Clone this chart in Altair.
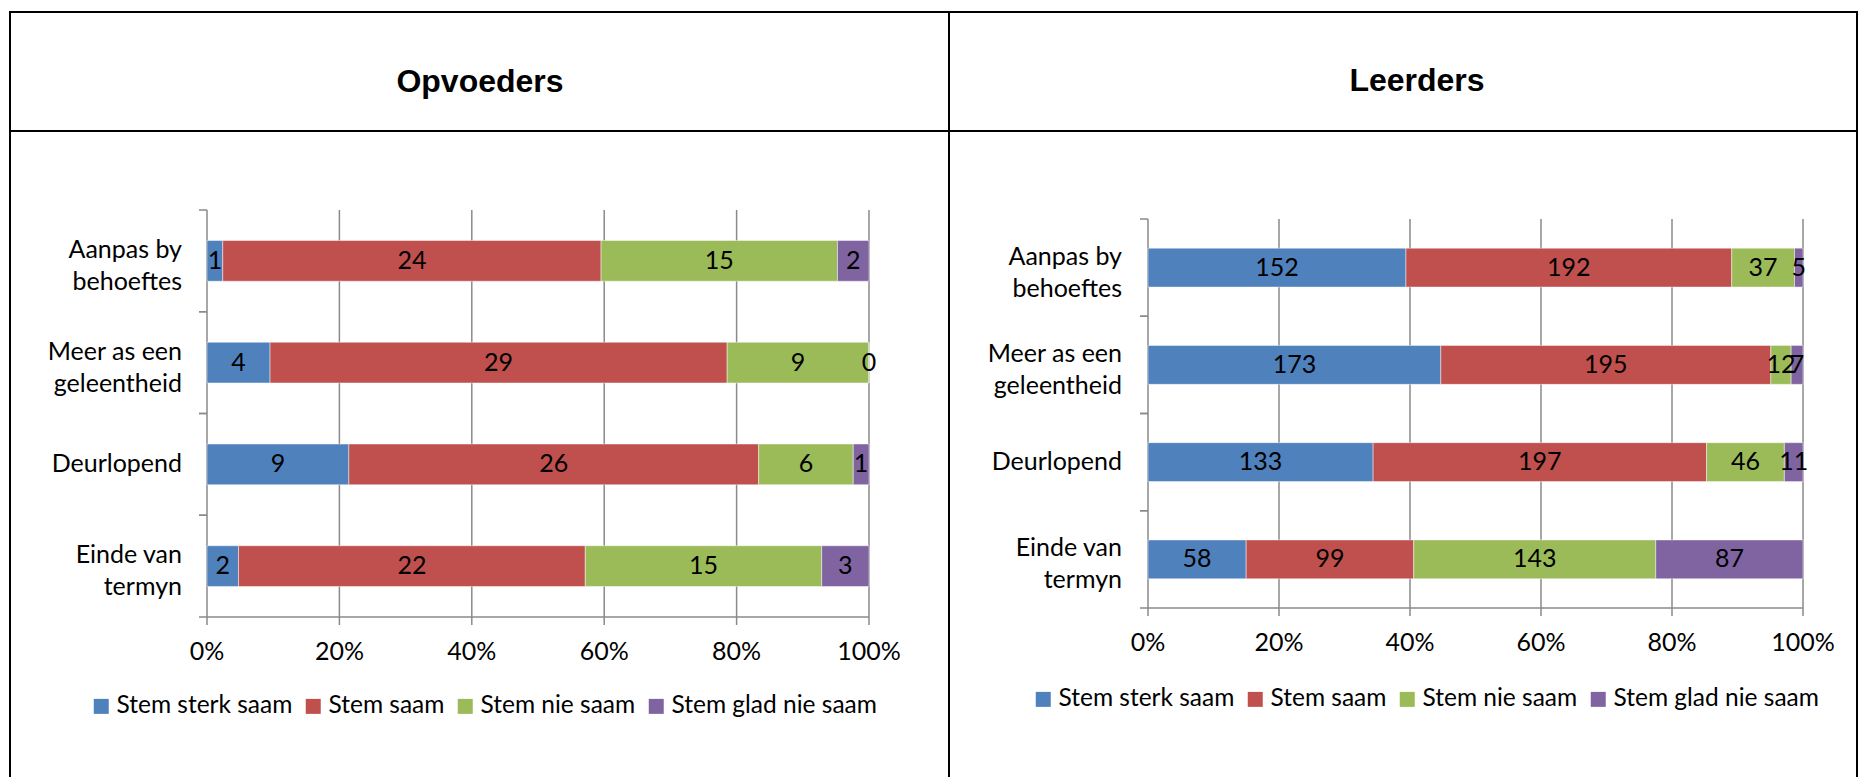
import altair as alt
import pandas as pd

# ---------------- data ----------------
categories = ["Aanpas by behoeftes", "Meer as een geleentheid", "Deurlopend", "Einde van termyn"]
category_lines = [["Aanpas by", "behoeftes"], ["Meer as een", "geleentheid"], ["Deurlopend"], ["Einde van", "termyn"]]
series = ["Stem sterk saam", "Stem saam", "Stem nie saam", "Stem glad nie saam"]
series_colors = ["#4F81BD", "#C0504D", "#9BBB59", "#8064A2"]
panel_titles = ["Opvoeders", "Leerders"]

opv_sterk = [1, 4, 9, 2]
opv_saam = [24, 29, 26, 22]
opv_nie = [15, 9, 6, 15]
opv_glad = [2, 0, 1, 3]

lee_sterk = [152, 173, 133, 58]
lee_saam = [192, 195, 197, 99]
lee_nie = [37, 12, 46, 143]
lee_glad = [5, 7, 11, 87]

x_ticks = [0, 0.2, 0.4, 0.6, 0.8, 1.0]

# ---------------- style / layout ----------------
W, H = 1867, 777
FONT = "Lato"
FS = 25
GRAY = "#8A8A8A"


def long_table(cols):
    rows = []
    for si, (s, vals) in enumerate(zip(series, cols)):
        for c, v in zip(categories, vals):
            rows.append({"cat": c, "series": s, "order": si, "value": v})
    return pd.DataFrame(rows)


cat_df = pd.DataFrame({
    "cat": categories,
    "label": ["\n".join(ls) for ls in category_lines],
    "nlines": [len(ls) for ls in category_lines],
})


def panel(df, xr, yr, ylab_right, xlab_base, legend_x, legend_y):
    x_scale = alt.Scale(domain=[0, 1], range=list(xr), nice=False, zero=False)
    y_scale = alt.Scale(domain=categories, range=list(yr), paddingInner=0.6, paddingOuter=0.3)
    base = alt.Chart(df).transform_stack(
        stack="value",
        groupby=["cat"],
        as_=["x0", "x1"],
        offset="normalize",
        sort=[alt.SortField("order", order="ascending")],
    )
    # vertical gridlines (extend 8px below the axis as tick marks)
    grid = alt.Chart(pd.DataFrame({"t": x_ticks})).mark_rule(color=GRAY, strokeWidth=1.5).encode(
        x=alt.X("t:Q", scale=x_scale, axis=None),
        y=alt.value(yr[0]),
        y2=alt.value(yr[1] + 8),
    )
    # x axis line
    xdom = alt.Chart(pd.DataFrame({"a": [0.0], "b": [1.0]})).mark_rule(color=GRAY, strokeWidth=1.5).encode(
        x=alt.X("a:Q", scale=x_scale, axis=None),
        x2="b:Q",
        y=alt.value(yr[1]),
    )
    # x tick labels
    xlab = alt.Chart(pd.DataFrame({"t": x_ticks})).mark_text(
        font=FONT, fontSize=FS, color="black", align="center", baseline="alphabetic"
    ).encode(
        x=alt.X("t:Q", scale=x_scale, axis=None),
        y=alt.value(xlab_base),
        text=alt.Text("t:Q", format=".0%"),
    )
    bars = base.mark_bar(stroke="white", strokeWidth=1, strokeOpacity=0.45).encode(
        x=alt.X("x0:Q", scale=x_scale, axis=None),
        x2="x1:Q",
        y=alt.Y("cat:N", scale=y_scale, axis=None, sort=categories),
        color=alt.Color(
            "series:N",
            scale=alt.Scale(domain=series, range=series_colors),
            legend=alt.Legend(
                orient="none", legendX=legend_x, legendY=legend_y, direction="horizontal",
                title=None, symbolType="square", symbolSize=225, symbolStrokeWidth=0,
                labelFont=FONT, labelFontSize=24.5, labelColor="black", labelOffset=3,
                columnPadding=8, padding=0, labelLimit=400,
            ),
        ),
    )
    labels = base.transform_calculate(mid="(datum.x0 + datum.x1) / 2").mark_text(
        font=FONT, fontSize=FS, color="black", align="center", baseline="middle"
    ).encode(
        x=alt.X("mid:Q", scale=x_scale, axis=None),
        y=alt.Y("cat:N", scale=y_scale, axis=None, sort=categories),
        text="value:Q",
    )
    ylabs = []
    for n, dy in ((1, 0), (2, -11)):
        ylabs.append(
            alt.Chart(cat_df).transform_filter(f"datum.nlines == {n}").mark_text(
                font=FONT, fontSize=FS, color="black", align="right", baseline="middle",
                lineBreak="\n", lineHeight=32, dy=dy,
            ).encode(
                x=alt.value(ylab_right),
                y=alt.Y("cat:N", scale=y_scale, axis=None, sort=categories),
                text="label:N",
            )
        )
    main = alt.layer(grid, xdom, bars, labels, xlab, *ylabs)

    # category boundary ticks on the y axis (separate, unpadded band scale)
    step_scale = alt.Scale(domain=categories, range=list(yr), paddingInner=0, paddingOuter=0)
    ticks = []
    for bp in (0, 1):
        ticks.append(
            alt.Chart(cat_df).mark_rule(color=GRAY, strokeWidth=1.5).encode(
                x=alt.value(xr[0] - 8), x2=alt.value(xr[0]),
                y=alt.Y("cat:N", scale=step_scale, axis=None, sort=categories, bandPosition=bp),
            )
        )
    return main, ticks


left, left_ticks = panel(long_table([opv_sterk, opv_saam, opv_nie, opv_glad]),
                         (207, 869), (210, 617), 182, 660, 89, 694)
right, right_ticks = panel(long_table([lee_sterk, lee_saam, lee_nie, lee_glad]),
                           (1148, 1803), (219, 608), 1122, 651, 1031, 687)

one = pd.DataFrame({"k": [0]})


def hline(y, x1, x2):
    return alt.Chart(one).mark_rule(color="black", strokeWidth=2).encode(
        x=alt.value(x1), x2=alt.value(x2), y=alt.value(y))


def vline(x, y1, y2):
    return alt.Chart(one).mark_rule(color="black", strokeWidth=2).encode(
        x=alt.value(x), y=alt.value(y1), y2=alt.value(y2))


borders = [
    hline(12, 9, 1858),
    hline(131, 9, 1858),
    vline(10, 11, H),
    vline(949, 11, H),
    vline(1857, 11, H),
]


def title_text(t, x, y):
    return alt.Chart(pd.DataFrame({"t": [t]})).mark_text(
        font="Liberation Sans", fontSize=32, fontWeight="bold",
        align="center", baseline="alphabetic", color="black",
    ).encode(x=alt.value(x), y=alt.value(y), text="t:N")


titles = [title_text(panel_titles[0], 480, 92), title_text(panel_titles[1], 1417, 91)]

chart = alt.layer(left, right, *left_ticks, *right_ticks, *borders, *titles).resolve_scale(
    x="independent", y="independent", color="independent"
).properties(
    width=W, height=H, autosize=alt.AutoSizeParams(type="none"), padding=0,
    background="white",
).configure_view(strokeWidth=0)

chart.save("out.html", embed_options={"renderer": "svg", "actions": False})
